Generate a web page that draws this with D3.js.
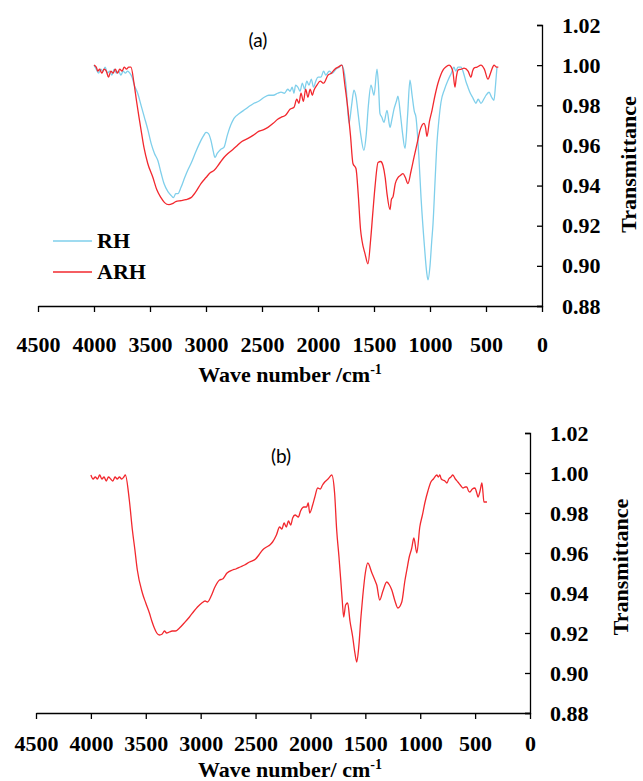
<!DOCTYPE html>
<html>
<head>
<meta charset="utf-8">
<script src="https://cdn.jsdelivr.net/npm/d3@7"></script>
<style>
  body { margin: 0; background: #fff; }
  .axis path, .axis line { stroke: #000; stroke-width: 1.3px; }
  .axis text { font-family: "Liberation Serif", "Times New Roman", serif; font-weight: bold; font-size: 22px; fill: #000; }
</style>
</head>
<body>
<script>
// wavenumbers (cm-1) and transmittance values
var rhWave = [4000,3980,3960,3940,3920,3900,3880,3860,3840,3820,3800,3780,3760,3740,3720,3700,3680,3660,3640,3610,3580,3550,3520,3490,3460,3430,3400,3375,3340,3310,3290,3270,3250,3224,3190,3160,3134,3090,3045,3020,3000,2980,2956,2935,2920,2900,2870,2840,2810,2780,2750,2700,2650,2600,2572,2530,2480,2440,2400,2360,2330,2300,2270,2250,2230,2215,2200,2180,2160,2140,2120,2100,2080,2060,2040,2020,2000,1973,1950,1930,1900,1870,1840,1810,1790,1777,1750,1723,1700,1679,1660,1640,1620,1590,1570,1550,1527,1500,1473,1460,1447,1430,1411,1384,1357,1340,1322,1300,1286,1265,1245,1223,1200,1179,1160,1140,1125,1100,1080,1050,1030,1018,1000,985,973,955,938,920,902,870,839,810,786,770,750,723,700,680,661,640,620,607,590,570,545,520,500,473,450,429,415,402];
var rhT = [1.000,0.998,0.996,0.998,0.997,0.999,0.996,0.997,0.995,0.998,0.996,0.997,0.995,0.997,0.996,0.997,0.996,0.994,0.990,0.986,0.980,0.974,0.968,0.961,0.956,0.9525,0.946,0.941,0.937,0.935,0.934,0.936,0.936,0.939,0.944,0.948,0.951,0.957,0.9625,0.965,0.9665,0.966,0.9625,0.957,0.954,0.956,0.958,0.959,0.965,0.970,0.9735,0.976,0.978,0.980,0.981,0.982,0.984,0.985,0.985,0.986,0.9866,0.986,0.988,0.987,0.989,0.986,0.990,0.989,0.987,0.991,0.988,0.992,0.990,0.993,0.989,0.992,0.994,0.994,0.997,0.995,0.997,0.996,0.998,0.999,1.000,0.999,0.990,0.971,0.980,0.9875,0.984,0.975,0.966,0.9575,0.965,0.980,0.990,0.985,0.998,0.990,0.976,0.974,0.9715,0.9775,0.969,0.973,0.978,0.982,0.9845,0.976,0.966,0.9585,0.975,0.9925,0.985,0.977,0.974,0.955,0.934,0.910,0.897,0.893,0.900,0.912,0.921,0.942,0.961,0.973,0.9815,0.988,0.9925,0.996,0.999,0.997,0.999,0.999,0.996,0.992,0.989,0.986,0.984,0.9825,0.981,0.983,0.981,0.983,0.985,0.9865,0.984,0.9825,0.990,0.999];

var arhWave = [4000,3980,3965,3950,3930,3910,3890,3870,3850,3830,3810,3790,3770,3750,3730,3710,3690,3670,3643,3620,3598,3575,3554,3520,3474,3440,3402,3370,3331,3300,3270,3224,3180,3134,3090,3045,3000,2960,2929,2880,2840,2804,2760,2720,2680,2625,2580,2530,2480,2447,2400,2360,2330,2290,2250,2214,2190,2170,2152,2130,2110,2090,2070,2050,2036,2010,1980,1950,1911,1880,1850,1820,1786,1760,1732,1710,1688,1661,1640,1620,1607,1580,1554,1530,1509,1490,1464,1440,1420,1400,1384,1357,1345,1330,1310,1286,1265,1241,1220,1197,1170,1143,1115,1089,1054,1040,1027,1005,982,955,929,905,884,860,830,810,795,777,765,750,720,696,660,634,620,607,580,545,515,482,460,440,429,405,390];
var arhT = [1.000,0.999,0.997,0.998,0.996,0.998,0.997,0.994,0.997,0.996,0.998,0.996,0.998,0.997,0.999,0.998,0.999,0.999,0.991,0.982,0.974,0.966,0.959,0.951,0.944,0.938,0.934,0.9315,0.9305,0.931,0.932,0.9325,0.933,0.934,0.937,0.941,0.944,0.9465,0.9475,0.951,0.954,0.956,0.958,0.960,0.962,0.9635,0.965,0.967,0.968,0.969,0.971,0.973,0.974,0.975,0.978,0.979,0.983,0.981,0.986,0.982,0.988,0.984,0.988,0.985,0.9875,0.990,0.992,0.991,0.995,0.996,0.998,0.999,1.000,0.990,0.9775,0.965,0.951,0.9485,0.935,0.918,0.9125,0.906,0.901,0.913,0.9275,0.940,0.9515,0.952,0.950,0.944,0.936,0.928,0.933,0.9345,0.941,0.944,0.945,0.946,0.944,0.941,0.947,0.954,0.961,0.9675,0.971,0.969,0.9645,0.972,0.9775,0.985,0.991,0.995,0.9975,0.999,1.000,0.999,0.9965,0.989,0.994,0.9975,0.998,0.9985,0.997,0.994,0.997,0.9985,0.999,1.000,0.998,0.993,0.996,0.999,1.000,0.999,0.999];

var bWave = [4000,3980,3960,3940,3920,3900,3880,3860,3840,3820,3800,3780,3760,3740,3720,3700,3686,3650,3622,3600,3577,3531,3500,3467,3445,3422,3400,3376,3350,3330,3310,3285,3260,3230,3193,3150,3102,3060,3029,2990,2960,2938,2900,2870,2828,2800,2760,2710,2680,2640,2600,2555,2500,2470,2436,2400,2370,2345,2310,2281,2260,2240,2220,2200,2180,2162,2140,2110,2090,2060,2035,2020,2007,1980,1960,1934,1910,1890,1870,1840,1806,1780,1761,1740,1724,1710,1697,1680,1661,1640,1615,1595,1578,1560,1540,1524,1500,1478,1440,1410,1396,1369,1340,1305,1280,1259,1230,1204,1168,1140,1122,1100,1077,1058,1031,1004,980,958,930,903,880,849,835,821,808,794,775,757,740,720,703,680,657,635,611,590,575,560,548,525,502,485,474,455,438,428,420,392];
var bT = [0.999,0.997,0.998,0.997,0.999,0.997,0.998,0.996,0.998,0.997,0.996,0.998,0.997,0.998,0.997,0.998,0.999,0.9865,0.9715,0.962,0.9515,0.940,0.935,0.930,0.926,0.9225,0.920,0.919,0.9195,0.921,0.920,0.9205,0.921,0.921,0.9225,0.925,0.928,0.931,0.933,0.935,0.936,0.9355,0.939,0.943,0.9465,0.947,0.950,0.9515,0.952,0.953,0.954,0.9555,0.957,0.959,0.9615,0.963,0.964,0.9655,0.969,0.973,0.972,0.975,0.973,0.976,0.974,0.9775,0.979,0.978,0.981,0.983,0.983,0.985,0.980,0.984,0.988,0.9925,0.992,0.994,0.9955,0.997,0.999,0.990,0.9715,0.958,0.9465,0.936,0.928,0.934,0.935,0.926,0.918,0.910,0.9055,0.913,0.928,0.938,0.950,0.955,0.950,0.946,0.944,0.9365,0.941,0.9455,0.944,0.9415,0.936,0.9325,0.9355,0.946,0.9515,0.958,0.9625,0.9675,0.960,0.973,0.979,0.985,0.991,0.9955,0.997,0.999,0.998,0.999,0.997,0.9965,0.996,0.995,0.997,0.998,0.999,0.997,0.9955,0.994,0.9925,0.993,0.993,0.991,0.9905,0.992,0.9925,0.990,0.988,0.991,0.995,0.990,0.9855,0.9855];

var xTicks = [4500,4000,3500,3000,2500,2000,1500,1000,500,0];
var yTicks = [0.88,0.90,0.92,0.94,0.96,0.98,1.00,1.02];

var blue = "#7fcfeb", red = "#f2282e";

var svg = d3.select("body").append("svg")
    .attr("width", 643).attr("height", 781);

function zip(w, t) {
    return w.map(function (d, i) { return { w: d, t: t[i] }; });
}

function panel(opt) {
    var x = d3.scaleLinear().domain([4500, 0]).range([opt.x0, opt.x1]);
    var y = d3.scaleLinear().domain([0.88, 1.02]).range([opt.y0, opt.y1]);

    var line = d3.line()
        .x(function (d) { return x(d.w); })
        .y(function (d) { return y(d.t); })
        .curve(d3.curveMonotoneX);

    opt.series.forEach(function (s) {
        svg.append("path")
            .datum(s.data)
            .attr("fill", "none")
            .attr("stroke", s.color)
            .attr("stroke-width", 1.3)
            .attr("d", line);
    });

    svg.append("g").attr("class", "axis")
        .attr("transform", "translate(0," + opt.y0 + ")")
        .call(d3.axisBottom(x).tickValues(xTicks).tickSizeInner(6).tickSizeOuter(0)
            .tickPadding(opt.xPad).tickFormat(d3.format("d")));

    svg.append("g").attr("class", "axis")
        .attr("transform", "translate(" + opt.x1 + ",0)")
        .call(d3.axisRight(y).tickValues(yTicks).tickSizeInner(-5).tickSizeOuter(-5)
            .tickPadding(opt.yPad).tickFormat(d3.format(".2f")));

    svg.append("text")
        .attr("transform", "translate(" + opt.tx + "," + ((opt.y0 + opt.y1) / 2 + opt.tdy) + ") rotate(-90)")
        .attr("text-anchor", "middle")
        .style("font-family", "'Liberation Serif', serif")
        .style("font-weight", "bold")
        .style("font-size", "22px")
        .text("Transmittance");

    var xt = svg.append("text")
        .attr("x", 290).attr("y", opt.titleY)
        .attr("text-anchor", "middle")
        .style("font-family", "'Liberation Serif', serif")
        .style("font-weight", "bold")
        .style("font-size", "22px");
    xt.append("tspan").text(opt.title);
    xt.append("tspan").attr("dy", -8).style("font-size", "14px").text("-1");

    svg.append("text")
        .attr("x", opt.lx).attr("y", opt.ly)
        .attr("text-anchor", "middle")
        .style("font-family", "Lato, 'Noto Sans', sans-serif")
        .style("font-size", "19px")
        .text(opt.label);
}

panel({
    x0: 38, x1: 542, y0: 306, y1: 25, xPad: 24, yPad: 20,
    tx: 636, tdy: -1, titleY: 382, title: "Wave number /cm",
    lx: 258, ly: 47, label: "(a)",
    series: [
        { data: zip(rhWave, rhT), color: blue },
        { data: zip(arhWave, arhT), color: red }
    ]
});

panel({
    x0: 36, x1: 530, y0: 713, y1: 433, xPad: 16, yPad: 20,
    tx: 628, tdy: -6, titleY: 777, title: "Wave number/ cm",
    lx: 281, ly: 463, label: "(b)",
    series: [
        { data: zip(bWave, bT), color: red }
    ]
});

// legend for panel (a)
var legend = [{ name: "RH", color: blue }, { name: "ARH", color: red }];
var lg = svg.selectAll(".lg").data(legend).enter().append("g")
    .attr("class", "lg")
    .attr("transform", function (d, i) { return "translate(53," + (241 + i * 31) + ")"; });
lg.append("line").attr("x1", 0).attr("x2", 39)
    .attr("stroke", function (d) { return d.color; }).attr("stroke-width", 1.3);
lg.append("text").attr("x", 44).attr("y", 7)
    .style("font-family", "'Liberation Serif', serif")
    .style("font-weight", "bold")
    .style("font-size", "22px")
    .text(function (d) { return d.name; });
</script>
</body>
</html>
